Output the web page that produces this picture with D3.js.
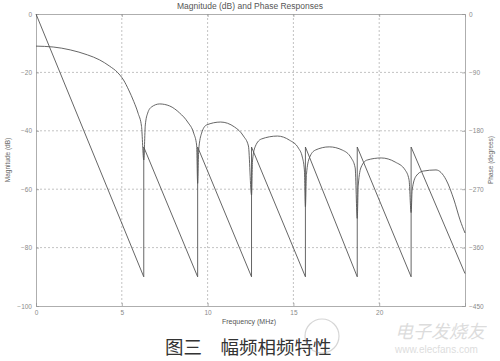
<!DOCTYPE html>
<html>
<head>
<meta charset="utf-8">
<script src="https://cdn.jsdelivr.net/npm/d3@7"></script>
<style>
  body { margin: 0; background: #fff; }
  svg { display: block; font-family: "Liberation Sans", Arial, sans-serif; }
</style>
</head>
<body>
<div id="chart"></div>
<script>
// Tick values
const freqTicks = [0, 5, 10, 15, 20];
const magTicks = [0, -20, -40, -60, -80, -100];
const phaseTicks = [0, -90, -180, -270, -360, -450];

// Magnitude response (MHz, dB)
const magFreq = [0, 1, 2, 3, 3.7, 4.3, 4.75, 5.1, 5.4, 5.7, 5.95, 6.15, 6.28,
  6.37, 6.51, 6.74, 7.21, 7.79, 8.37, 8.84, 9.19, 9.36, 9.42,
  9.48, 9.65, 9.94, 10.76, 11.57, 12.09, 12.38, 12.56,
  12.62, 12.79, 13.14, 14.07, 14.77, 15.29, 15.52, 15.64, 15.70,
  15.76, 15.93, 16.28, 17.09, 17.85, 18.37, 18.60, 18.72,
  18.78, 18.95, 19.30, 20.12, 20.93, 21.51, 21.74, 21.86,
  21.92, 22.15, 22.56, 23.31, 23.90, 24.36, 24.71, 25];
const magDb = [-11, -11.3, -12.3, -14, -15.7, -17.9, -20, -22.6, -26, -30, -34, -38.5, -50,
  -38, -33.9, -31.8, -30.8, -31.5, -33.9, -37, -40.8, -44.9, -58,
  -46.6, -40.8, -38, -37, -38.7, -41.8, -45.2, -62,
  -50, -45.2, -42.8, -41.8, -43.2, -45.9, -49, -53.4, -66,
  -55, -49.3, -46.6, -45.5, -46.6, -49.3, -52.7, -70,
  -58.6, -52.4, -50, -49.3, -50.7, -53.4, -56.8, -68,
  -60.3, -55.5, -53.8, -53.4, -56.8, -63.7, -70.5, -75];

// Phase response (MHz, degrees), sawtooth with jumps at the nulls
const phaseFreq = [0, 6.28, 6.28, 9.42, 9.42, 12.56, 12.56, 15.70, 15.70,
  18.72, 18.72, 21.86, 21.86, 25];
const phaseDeg = [0, -405, -205, -405, -205, -405, -205, -405, -205,
  -405, -205, -405, -205, -400];

const width = 500, height = 361;
const m = { left: 36, right: 35, top: 14, bottom: 55 };

const svg = d3.select("#chart").append("svg")
  .attr("width", width)
  .attr("height", height);

const x = d3.scaleLinear().domain([0, 25]).range([m.left, width - m.right]);
const yMag = d3.scaleLinear().domain([-100, 0]).range([height - m.bottom, m.top]);
const yPh = d3.scaleLinear().domain([-450, 0]).range([height - m.bottom, m.top]);

// Grid
const grid = svg.append("g")
  .attr("stroke", "#b4b4b4")
  .attr("stroke-width", 0.8)
  .attr("stroke-dasharray", "2,2");
grid.selectAll(".gx").data(freqTicks.slice(1)).join("line")
  .attr("x1", d => x(d)).attr("x2", d => x(d))
  .attr("y1", yMag(0)).attr("y2", yMag(-100));
grid.selectAll(".gy").data(magTicks.slice(1, -1)).join("line")
  .attr("x1", x(0)).attr("x2", x(25))
  .attr("y1", d => yMag(d)).attr("y2", d => yMag(d));

// Axes
const axisColor = "#999";
const leftAxis = svg.append("g").attr("transform", `translate(${m.left},0)`)
  .call(d3.axisLeft(yMag).tickValues(magTicks).tickSize(-3).tickPadding(4));
const rightAxis = svg.append("g").attr("transform", `translate(${width - m.right},0)`)
  .call(d3.axisRight(yPh).tickValues(phaseTicks).tickSize(-3).tickPadding(4));
const bottomAxis = svg.append("g").attr("transform", `translate(0,${height - m.bottom})`)
  .call(d3.axisBottom(x).tickValues(freqTicks).tickSize(-3).tickPadding(4));
const topAxis = svg.append("g").attr("transform", `translate(0,${m.top})`)
  .call(d3.axisTop(x).tickValues(freqTicks).tickSize(-3).tickFormat(""));

[leftAxis, rightAxis, bottomAxis, topAxis].forEach(g => {
  g.selectAll("path, line").attr("stroke", axisColor).attr("stroke-width", 0.8);
  g.selectAll("text").attr("fill", "#8a8a8a").attr("font-size", 6.5)
    .attr("font-family", "Liberation Sans, Arial, sans-serif");
});

// Curves
const magLine = d3.line()
  .x((d, i) => x(magFreq[i]))
  .y(d => yMag(d))
  .curve(d3.curveMonotoneX);
svg.append("path")
  .datum(magDb)
  .attr("d", magLine)
  .attr("fill", "none")
  .attr("stroke", "#555")
  .attr("stroke-width", 0.9);

const phLine = d3.line()
  .x((d, i) => x(phaseFreq[i]))
  .y(d => yPh(d));
svg.append("path")
  .datum(phaseDeg)
  .attr("d", phLine)
  .attr("fill", "none")
  .attr("stroke", "#555")
  .attr("stroke-width", 0.9);

// Labels
svg.append("text")
  .attr("x", 250).attr("y", 9)
  .attr("text-anchor", "middle")
  .attr("font-size", 8.5)
  .attr("fill", "#555")
  .text("Magnitude (dB) and Phase  Responses");

svg.append("text")
  .attr("x", 249).attr("y", 324)
  .attr("text-anchor", "middle")
  .attr("font-size", 7)
  .attr("fill", "#555")
  .text("Frequency (MHz)");

svg.append("text")
  .attr("transform", "translate(10,160) rotate(-90)")
  .attr("text-anchor", "middle")
  .attr("font-size", 6.5)
  .attr("fill", "#666")
  .text("Magnitude (dB)");

svg.append("text")
  .attr("transform", "translate(493,160) rotate(-90)")
  .attr("text-anchor", "middle")
  .attr("font-size", 6.5)
  .attr("fill", "#666")
  .text("Phase (degrees)");

// Caption
svg.append("text")
  .attr("x", 165).attr("y", 354)
  .attr("font-size", 18.5)
  .attr("font-family", "Noto Sans CJK SC, sans-serif")
  .attr("fill", "#333")
  .text("图三\u3000幅频相频特性");

// Watermark
const wm = svg.append("g").attr("opacity", 0.4);
wm.append("circle")
  .attr("cx", 322).attr("cy", 336).attr("r", 17)
  .attr("fill", "none").attr("stroke", "#999").attr("stroke-width", 1.2);
wm.append("text")
  .attr("x", 395).attr("y", 338)
  .attr("font-size", 18)
  .attr("font-style", "italic")
  .attr("font-family", "Noto Sans CJK SC, sans-serif")
  .attr("fill", "#aaa")
  .text("电子发烧友");
wm.append("text")
  .attr("x", 395).attr("y", 353)
  .attr("font-size", 10)
  .attr("fill", "#aaa")
  .text("www.elecfans.com");
</script>
</body>
</html>
